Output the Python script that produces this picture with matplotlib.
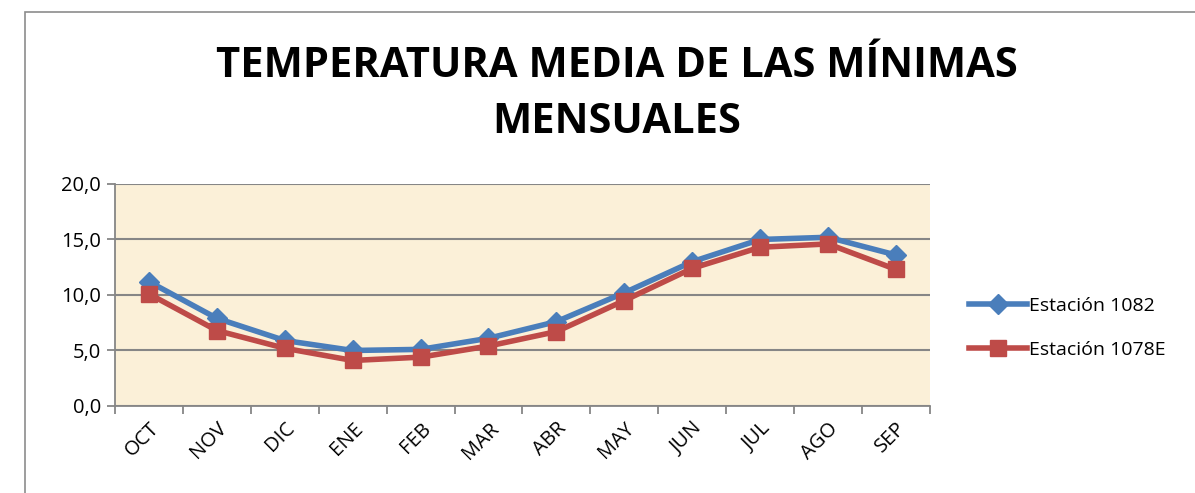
import matplotlib.pyplot as plt
from matplotlib.patches import Rectangle
from matplotlib.lines import Line2D

meses = ['OCT', 'NOV', 'DIC', 'ENE', 'FEB', 'MAR', 'ABR', 'MAY', 'JUN', 'JUL', 'AGO', 'SEP']
est_1082 = [11.2, 7.9, 5.9, 5.0, 5.1, 6.1, 7.6, 10.2, 13.0, 15.0, 15.2, 13.6]
est_1078e = [10.1, 6.8, 5.2, 4.1, 4.4, 5.4, 6.7, 9.5, 12.4, 14.3, 14.6, 12.3]
y_ticks = [0, 5, 10, 15, 20]

plt.rcParams['font.family'] = ['Open Sans', 'DejaVu Sans']

fig = plt.figure(figsize=(11.95, 4.93), dpi=100)

# chart border
fig.patches.append(Rectangle((25 / 1195, -0.01), 1.0, 1 - 12 / 493 + 0.01,
                             transform=fig.transFigure, fill=False,
                             edgecolor='#8c8c8c', linewidth=1.2))

fig.text(0.516, 0.865, 'TEMPERATURA MEDIA DE LAS MÍNIMAS', ha='center', va='center',
         fontsize=30, fontweight='bold')
fig.text(0.516, 0.752, 'MENSUALES', ha='center', va='center',
         fontsize=30, fontweight='bold')

ax = fig.add_axes([0.0962, 0.1765, 0.682, 0.4503])
ax.set_facecolor('#fbf0d8')

x = list(range(len(meses)))
ax.plot(x, est_1082, color='#4a7ebb', linewidth=4, marker='D', markersize=10,
        zorder=3, label='Estación 1082')
ax.plot(x, est_1078e, color='#be4b48', linewidth=4, marker='s', markersize=12,
        zorder=4, label='Estación 1078E')

ax.set_xlim(-0.5, 11.5)
ax.set_ylim(0, 20)
ax.set_yticks(y_ticks)
ax.set_yticklabels([f'{v:.1f}'.replace('.', ',') for v in y_ticks], fontsize=14.5)
ax.set_xticks(x)
ax.set_xticklabels(meses, rotation=45, ha='right', rotation_mode='anchor', fontsize=14.5)
ax.set_xticks([i - 0.5 for i in range(13)], minor=True)
ax.tick_params(axis='x', which='major', length=0, pad=9)
ax.tick_params(axis='x', which='minor', length=6, color='#868686', width=1.3)
ax.tick_params(axis='y', length=6, color='#868686', width=1.3, pad=4)

ax.grid(axis='y', color='#868686', linewidth=1.5)
ax.set_axisbelow(True)
for side in ['top', 'right']:
    ax.spines[side].set_visible(False)
for side in ['left', 'bottom']:
    ax.spines[side].set_color('#868686')
    ax.spines[side].set_linewidth(1.3)

handles = [Line2D([], [], color='#4a7ebb', linewidth=4, marker='D', markersize=10),
           Line2D([], [], color='#be4b48', linewidth=4, marker='s', markersize=12)]
fig.legend(handles, ['Estación 1082', 'Estación 1078E'], loc='center left',
           bbox_to_anchor=(0.796, 0.335), frameon=False, fontsize=14,
           handlelength=3.0, handletextpad=0.1, labelspacing=1.35)

fig.savefig('out.png', dpi=100)
